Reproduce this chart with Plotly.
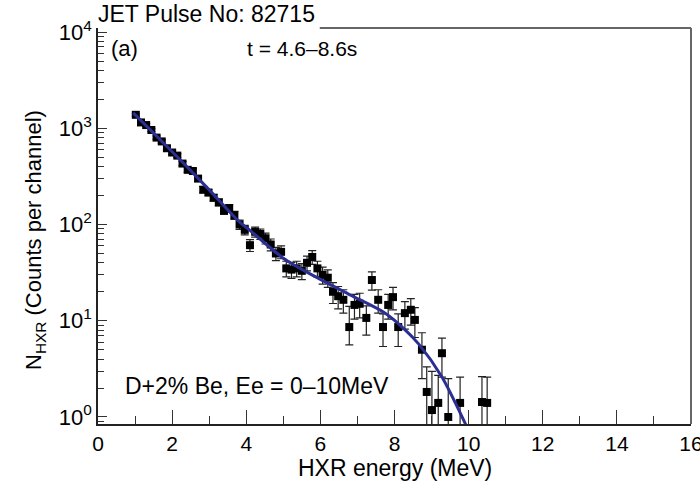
import plotly.graph_objects as go

# ---- data ----
energy = [1.02, 1.16, 1.30, 1.44, 1.58, 1.72, 1.86, 2.00, 2.14, 2.28,
          2.42, 2.56, 2.70, 2.84, 2.98, 3.12, 3.26, 3.40, 3.54, 3.68,
          3.82, 3.96, 4.10, 4.24, 4.38, 4.52, 4.66, 4.80, 4.94, 5.08,
          5.22, 5.36, 5.50, 5.64, 5.78, 5.92, 6.06, 6.20, 6.34, 6.48,
          6.62, 6.78, 6.92, 7.06, 7.24, 7.39, 7.56, 7.69, 7.83, 7.96,
          8.10, 8.28, 8.44, 8.55, 8.74, 8.87, 9.01, 9.18, 9.28, 9.45,
          9.77, 10.36, 10.50]
counts = [1380, 1150, 1080, 960, 800, 730, 620, 560, 520, 430,
          370, 360, 300, 230, 215, 190, 170, 140, 148, 125,
          100, 88, 61, 84, 80, 72, 62, 50, 52, 35,
          34, 35, 33, 40, 46, 35, 30, 28, 20, 18,
          16.5, 8.6, 14.6, 15, 10.7, 26.5, 16.5, 8.6, 14.6, 17.6,
          8.6, 12, 13, 10.2, 5.0, 1.82, 1.18, 1.4, 4.6, 1.0,
          1.4, 1.43, 1.4]
err_up = [41, 37, 36, 34, 31, 30, 27, 26, 25, 23,
          21, 21, 19, 17, 16, 15, 14, 13, 13, 12,
          11, 10, 8.6, 10, 9.8, 9.3, 8.7, 7.8, 7.9, 6.5,
          6.4, 6.5, 6.3, 7.0, 7.5, 6.5, 6.0, 5.8, 4.9, 4.7,
          4.5, 5.5, 4.2, 4.3, 3.6, 5.7, 4.5, 3.2, 4.2, 4.6,
          3.2, 3.8, 4.0, 3.5, 2.5, 1.5, 1.8, 1.3, 2.0, 1.5,
          1.2, 1.2, 1.2]
err_down = [41, 37, 36, 34, 31, 30, 27, 26, 25, 23,
            21, 21, 19, 17, 16, 15, 14, 13, 13, 12,
            11, 10, 8.6, 10, 9.8, 9.3, 8.7, 7.8, 7.9, 6.5,
            6.4, 6.5, 6.3, 7.0, 7.5, 6.5, 6.0, 5.8, 4.9, 4.7,
            4.5, 3.0, 4.2, 4.3, 3.6, 5.7, 4.5, 3.2, 4.2, 4.6,
            3.2, 3.8, 4.0, 3.5, 2.5, 1.5, 0.9, 1.2, 2.0, 0.9,
            1.2, 1.2, 1.2]

fit_e = [0.95, 1.5, 2.4, 3.0, 3.83, 4.1, 5.0, 5.9, 6.8, 7.7, 8.25, 8.65, 9.28, 9.9, 10.0]
fit_n = [1445, 891, 398, 229, 105, 87, 44.7, 28.2, 18.6, 12.3, 8.3, 5.75, 2.6, 0.87, 0.72]

x_ticks = [0, 2, 4, 6, 8, 10, 12, 14, 16]
y_tickvals = [1, 10, 100, 1000, 10000]
y_ticktext = ["10<sup>0</sup>", "10<sup>1</sup>", "10<sup>2</sup>", "10<sup>3</sup>", "10<sup>4</sup>"]

FONT = "Liberation Sans, Arial, sans-serif"

fig = go.Figure()

fig.add_trace(go.Scatter(
    x=energy, y=counts, mode="markers",
    marker=dict(symbol="square", size=8, color="black"),
    error_y=dict(type="data", symmetric=False, array=err_up, arrayminus=err_down,
                 color="#222222", thickness=1.2, width=4),
    showlegend=False, hoverinfo="x+y",
))

fig.add_trace(go.Scatter(
    x=fit_e, y=fit_n, mode="lines",
    line=dict(color="#2b2f94", width=3, shape="spline", smoothing=0.8),
    showlegend=False,
))

minor_vals = [m * 10 ** d for d in range(-1, 4) for m in range(2, 10)]

fig.update_layout(
    width=700, height=483,
    margin=dict(l=98, r=9, t=28, b=59, autoexpand=False),
    paper_bgcolor="white", plot_bgcolor="white",
    font=dict(family=FONT, size=21, color="black"),
    xaxis=dict(
        range=[0, 16], tickvals=x_ticks, ticktext=[str(v) for v in x_ticks],
        ticks="inside", ticklen=14, tickwidth=1.2, tickcolor="#333",
        minor=dict(dtick=1, ticks="inside", ticklen=8, tickwidth=1.2, tickcolor="#333"),
        showline=True, linecolor="#222", linewidth=1.5, mirror=False,
        showgrid=False, zeroline=False, ticklabeloverflow="allow", automargin=False,
        tickfont=dict(size=21, family=FONT),
    ),
    yaxis=dict(
        type="log", range=[-0.073, 4.042],
        tickvals=y_tickvals, ticktext=y_ticktext,
        ticks="inside", ticklen=9, tickwidth=1.2, tickcolor="#333",
        minor=dict(tickvals=minor_vals, ticks="inside", ticklen=6, tickwidth=1, tickcolor="#333"),
        showline=True, linecolor="#222", linewidth=1.5, mirror=False,
        showgrid=False, zeroline=False, automargin=False,
        tickfont=dict(size=22, family=FONT),
    ),
    shapes=[
        dict(type="line", xref="paper", yref="paper", x0=0.374, x1=1.0, y0=1.0, y1=1.0,
             line=dict(color="#666", width=2)),
        dict(type="line", xref="paper", yref="paper", x0=1.0, x1=1.0, y0=0, y1=1.0,
             line=dict(color="#666", width=2)),
    ],
    annotations=[
        dict(text="JET Pulse No: 82715", xref="paper", yref="paper", x=-0.003, y=1.036,
             xanchor="left", yanchor="middle", showarrow=False,
             font=dict(size=23)),
        dict(text="(a)", xref="paper", yref="paper", x=0.018, y=0.949,
             xanchor="left", yanchor="middle", showarrow=False, font=dict(size=22)),
        dict(text="t = 4.6–8.6s", xref="paper", yref="paper", x=0.248, y=0.949,
             xanchor="left", yanchor="middle", showarrow=False, font=dict(size=21)),
        dict(text="D+2% Be, Ee = 0–10MeV", xref="paper", yref="paper", x=0.042, y=0.096,
             xanchor="left", yanchor="middle", showarrow=False, font=dict(size=23)),
        dict(text="HXR energy (MeV)", xref="paper", yref="paper", x=0.501, y=-0.112,
             xanchor="center", yanchor="middle", showarrow=False, font=dict(size=23)),
        dict(text="N<sub>HXR</sub> (Counts per channel)", xref="paper", yref="paper",
             x=-0.106, y=0.465, xanchor="center", yanchor="middle", textangle=-90,
             showarrow=False, font=dict(size=22)),
    ],
)

fig.write_html("out.html")
